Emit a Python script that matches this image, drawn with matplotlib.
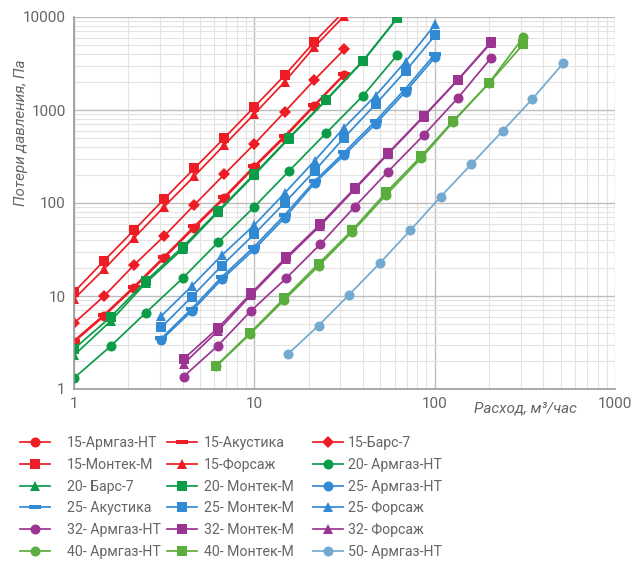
import matplotlib
matplotlib.use("Agg")
import matplotlib.pyplot as plt
from matplotlib.ticker import LogLocator, NullFormatter, FixedLocator

plt.rcParams['font.family'] = ['Roboto', 'DejaVu Sans']

# flow rates, m3/h (each size group has its own set of points)
x15 = [1, 1.47, 2.15, 3.16, 4.64, 6.81, 10, 14.7, 21.5, 31.6]
x20 = [1, 1.6, 2.5, 4, 6.3, 10, 15.5, 25, 40, 62]
x25 = [3.05, 4.5, 6.6, 10, 14.7, 21.6, 31.5, 47, 69, 101]
x32 = [4.05, 6.27, 9.6, 15, 23.2, 36, 55, 87, 134, 206]
x40 = [6.14, 9.47, 14.6, 22.7, 34.9, 53.8, 84.4, 127, 200, 310]
x50 = [15.3, 22.7, 33.5, 49.5, 73.4, 108, 160, 238, 348, 516]

# pressure losses, Pa
p15_armgaz = [3.2, 6.1, 12.2, 25.6, 54, 112, 242, 505, 1100, 2400]
p15_akustika = [3.3, 6.3, 12.6, 26.5, 56, 116, 250, 525, 1130, 2450]
p15_bars = [5.1, 10, 21.5, 44, 95, 203, 431, 950, 2100, 4500]
p15_montek = [11, 24, 51, 110, 235, 500, 1080, 2350, 5400, 11600]
p15_forsazh = [9.3, 19.5, 42, 91, 194, 420, 906, 2000, 4750, 10300]
p20_armgaz = [1.31, 2.9, 6.6, 15.5, 38, 91, 219, 565, 1420, 3900]
p20_bars = [2.3, 5.4, 13.8, 32, 80, 200, 490, 1270, 3330, 9700]
p20_montek = [2.7, 5.95, 14.5, 33.6, 82, 205, 500, 1290, 3380, 9800]
p25_armgaz = [3.37, 6.9, 15.1, 31.8, 69, 164, 328, 708, 1575, 3740]
p25_akustika = [3.5, 7.3, 16.0, 34, 74, 172, 350, 760, 1700, 4050]
p25_montek = [4.6, 9.8, 21.2, 46.4, 100, 222, 505, 1150, 2630, 6400]
p25_forsazh = [6.1, 12.8, 27.4, 58, 127, 285, 647, 1425, 3320, 8400]
p32_armgaz = [1.36, 2.92, 6.95, 15.5, 36, 91, 217, 537, 1335, 3650]
p32_montek = [2.1, 4.5, 10.7, 26, 59, 144, 342, 862, 2100, 5400]
p32_forsazh = [1.86, 4.2, 10.3, 25, 57, 140, 335, 850, 2080, 5300]
p40_armgaz = [1.75, 3.9, 9.0, 21, 49, 122, 305, 750, 1950, 6030]
p40_montek = [1.78, 4.0, 9.4, 22.3, 51, 130, 320, 767, 1937, 5100]
p50_armgaz = [2.36, 4.8, 10.3, 22.4, 51, 117, 262, 594, 1313, 3180]

RED = '#EE1C24'
GREEN = '#0B9C48'
BLUE = '#3289D4'
PURPLE = '#9C3592'
LGREEN = '#5BAE3D'
LBLUE = '#74A9D0'
GREY = '#666666'

dash = [(-1, -0.32), (1, -0.32), (1, 0.32), (-1, 0.32), (-1, -0.32)]

series = [
    ('15-Армгаз-НТ', x15, p15_armgaz, RED, 'o'),
    ('15-Акустика', x15, p15_akustika, RED, dash),
    ('15-Барс-7', x15, p15_bars, RED, 'D'),
    ('15-Монтек-М', x15, p15_montek, RED, 's'),
    ('15-Форсаж', x15, p15_forsazh, RED, '^'),
    ('20- Армгаз-НТ', x20, p20_armgaz, GREEN, 'o'),
    ('20- Барс-7', x20, p20_bars, GREEN, '^'),
    ('20- Монтек-М', x20, p20_montek, GREEN, 's'),
    ('25- Армгаз-НТ', x25, p25_armgaz, BLUE, 'o'),
    ('25- Акустика', x25, p25_akustika, BLUE, dash),
    ('25- Монтек-М', x25, p25_montek, BLUE, 's'),
    ('25- Форсаж', x25, p25_forsazh, BLUE, '^'),
    ('32- Армгаз-НТ', x32, p32_armgaz, PURPLE, 'o'),
    ('32- Монтек-М', x32, p32_montek, PURPLE, 's'),
    ('32- Форсаж', x32, p32_forsazh, PURPLE, '^'),
    ('40- Армгаз-НТ', x40, p40_armgaz, LGREEN, 'o'),
    ('40- Монтек-М', x40, p40_montek, LGREEN, 's'),
    ('50- Армгаз-НТ', x50, p50_armgaz, LBLUE, 'o'),
]

W, H = 631, 562
fig = plt.figure(figsize=(W / 100, H / 100), dpi=100)
ax = fig.add_axes([74 / W, 1 - 389 / H, 541 / W, 372 / H])

handles = []
for name, xs, ys, col, mk in series:
    ms = 7.2
    if mk == 'D':
        ms = 6.0
    if mk == '^':
        ms = 7.0
    if mk is dash:
        ms = 8.0
    h, = ax.plot(xs, ys, color=col, lw=1.25, marker=mk, ms=ms,
                 markeredgewidth=0, label=name, clip_on=True)
    handles.append(h)

ax.set_xscale('log')
ax.set_yscale('log')
ax.set_xlim(1, 1000)
ax.set_ylim(1, 10000)

ax.xaxis.set_major_locator(FixedLocator([1, 10, 100, 1000]))
ax.yaxis.set_major_locator(FixedLocator([1, 10, 100, 1000, 10000]))
ax.set_xticklabels(['1', '10', '100', '1000'])
ax.set_yticklabels(['1', '10', '100', '1000', '10000'])
ax.xaxis.set_minor_locator(LogLocator(base=10, subs=range(2, 10)))
ax.yaxis.set_minor_locator(LogLocator(base=10, subs=range(2, 10)))
ax.xaxis.set_minor_formatter(NullFormatter())
ax.yaxis.set_minor_formatter(NullFormatter())

ax.grid(which='major', color='#BDBDBD', lw=1.0)
ax.grid(which='minor', color='#E3E3E3', lw=0.8)
ax.set_axisbelow(True)

for s in ['top', 'right']:
    ax.spines[s].set_visible(False)
for s in ['left', 'bottom']:
    ax.spines[s].set_color('#9A9A9A')
    ax.spines[s].set_linewidth(1.2)

ax.tick_params(which='both', length=0, labelsize=11, labelcolor=GREY, pad=6)

ax.set_ylabel('Потери давления, Па', fontsize=11, color=GREY, style='italic')
ax.yaxis.set_label_coords(-0.085, 0.69)
ax.text(0.835, -0.052, 'Расход, м³/час', transform=ax.transAxes, fontsize=11,
        color=GREY, style='italic', ha='center', va='center')

# legend: three columns placed by hand, read row by row
col_x = [20, 167, 313]
col_pad = [1.22, 0.5, 0.36]
for c in range(3):
    hs = [handles[r * 3 + c] for r in range(6)]
    leg = fig.legend(handles=hs, labels=[h.get_label() for h in hs],
                     loc='upper left', bbox_to_anchor=(col_x[c] / W, 1 - 436 / H),
                     frameon=False, fontsize=10.2, handlelength=2.1,
                     labelspacing=0.55, handletextpad=col_pad[c],
                     borderpad=0, borderaxespad=0)
    for t in leg.get_texts():
        t.set_color(GREY)

fig.savefig('out.png', dpi=100)
